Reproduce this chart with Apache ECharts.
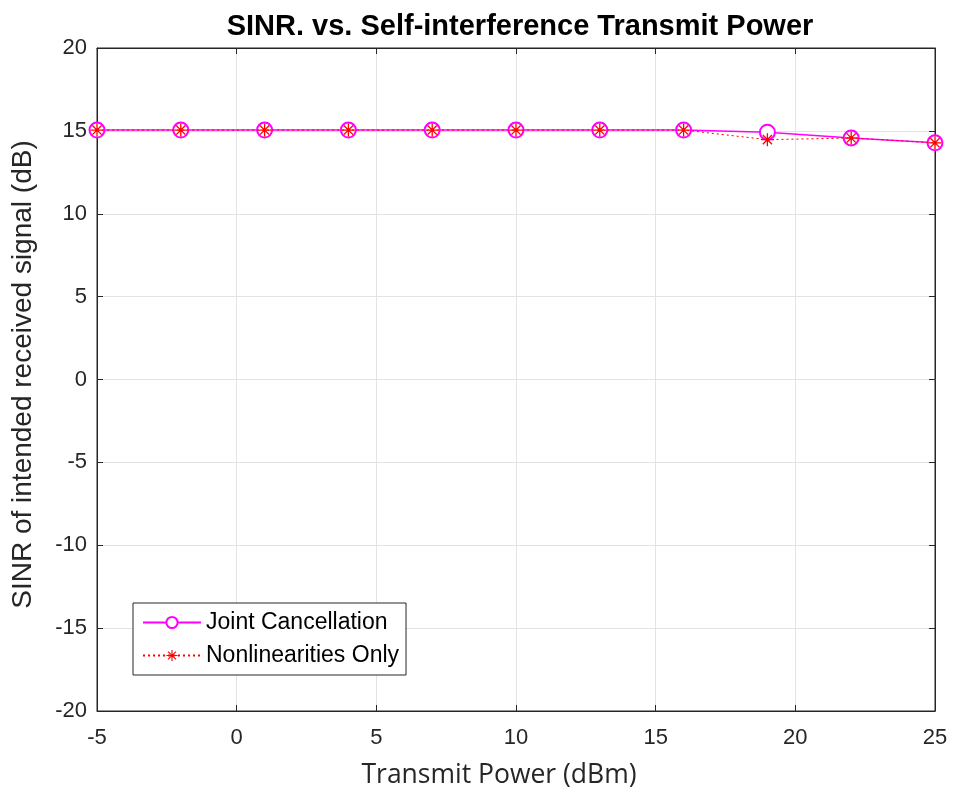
<!DOCTYPE html>
<html>
<head>
<meta charset="utf-8">
<script src="https://cdn.jsdelivr.net/npm/echarts@6/dist/echarts.min.js"></script>
<style>
  html, body { margin: 0; padding: 0; background: #fff; }
  #chart { width: 954px; height: 794px; }
</style>
</head>
<body>
<div id="chart"></div>
<script>
// Transmit power sweep (dBm)
const transmitPower = [-5, -2, 1, 4, 7, 10, 13, 16, 19, 22, 25];
// SINR (dB) for each scheme
const jointCancellation = [15.05, 15.05, 15.05, 15.05, 15.05, 15.05, 15.05, 15.05, 14.92, 14.57, 14.28];
const nonlinearitiesOnly = [15.05, 15.05, 15.05, 15.05, 15.05, 15.05, 15.05, 15.05, 14.47, 14.57, 14.28];
const seriesNames = ['Joint Cancellation', 'Nonlinearities Only'];

const FONT = '"Liberation Sans", Arial, Helvetica, sans-serif';
const LABEL_FONT = '"Open Sans", "Liberation Sans", sans-serif';
const AXIS_COLOR = '#262626';
const GRID_COLOR = '#e3e3e3';

// Asterisk marker built from four thin bars
const asterisk = 'path://M-1,-10L1,-10L1,10L-1,10Z M-10,-1L10,-1L10,1L-10,1Z ' +
  'M-7.78,-6.36L-6.36,-7.78L7.78,6.36L6.36,7.78Z M6.36,-7.78L7.78,-6.36L-6.36,7.78L-7.78,6.36Z';

const chart = echarts.init(document.getElementById('chart'), null, { renderer: 'canvas' });

const valueAxisCommon = {
  type: 'value',
  axisLine: { show: true, onZero: false, lineStyle: { color: AXIS_COLOR, width: 1 } },
  axisTick: { show: true, inside: true, length: 6, lineStyle: { color: AXIS_COLOR } },
  splitLine: { show: false }
};

chart.setOption({
  backgroundColor: '#ffffff',
  animation: false,
  textStyle: { fontFamily: FONT },
  title: {
    text: 'SINR. vs. Self-interference Transmit Power',
    left: 515, top: 7, textAlign: 'center',
    textStyle: { fontFamily: FONT, fontSize: 29, fontWeight: 'bold', color: '#000' }
  },
  grid: {
    left: 97, right: 19, top: 48, bottom: 81,
    show: true, borderColor: AXIS_COLOR, borderWidth: 1, backgroundColor: '#fff'
  },
  legend: {
    data: seriesNames,
    orient: 'vertical',
    left: 133, top: 603,
    itemWidth: 58, itemHeight: 14, itemGap: 10,
    padding: [8, 7, 8, 9],
    backgroundColor: '#fff',
    borderColor: AXIS_COLOR, borderWidth: 1, borderRadius: 0,
    textStyle: { fontFamily: FONT, fontSize: 23, color: '#000', padding: [0, 0, 0, 0] }
  },
  xAxis: [
    Object.assign({}, valueAxisCommon, {
      min: -5, max: 25, interval: 5,
      name: 'Transmit Power (dBm)', nameLocation: 'middle', nameGap: 51,
      nameTextStyle: { fontFamily: LABEL_FONT, fontSize: 26.5, color: AXIS_COLOR, padding: [0, 34, 0, 0] },
      axisLabel: { fontFamily: FONT, fontSize: 22, color: AXIS_COLOR, margin: 16 },
      splitLine: { show: true, lineStyle: { color: GRID_COLOR, width: 1 } }
    }),
    Object.assign({}, valueAxisCommon, {
      position: 'top', min: -5, max: 25, interval: 5, axisLabel: { show: false }
    })
  ],
  yAxis: [
    Object.assign({}, valueAxisCommon, {
      min: -20, max: 20, interval: 5,
      name: 'SINR of intended received signal (dB)', nameLocation: 'middle', nameGap: 60,
      nameTextStyle: { fontFamily: FONT, fontSize: 28, color: AXIS_COLOR, padding: [0, 0, 0, 10] },
      axisLabel: { fontFamily: FONT, fontSize: 22, color: AXIS_COLOR, margin: 10 },
      splitLine: { show: true, lineStyle: { color: GRID_COLOR, width: 1 } }
    }),
    Object.assign({}, valueAxisCommon, {
      position: 'right', min: -20, max: 20, interval: 5, axisLabel: { show: false }
    })
  ],
  series: [
    {
      name: seriesNames[0],
      type: 'line',
      data: transmitPower.map((x, i) => [x, jointCancellation[i]]),
      symbol: 'emptyCircle', symbolSize: 15,
      lineStyle: { color: '#ff00ff', width: 1.5, type: 'solid' },
      itemStyle: { color: '#ff00ff', borderColor: '#ff00ff', borderWidth: 1.5 },
      z: 3
    },
    {
      name: seriesNames[1],
      type: 'line',
      data: transmitPower.map((x, i) => [x, nonlinearitiesOnly[i]]),
      symbol: asterisk, symbolSize: 13,
      lineStyle: { color: '#ff0000', width: 1, type: [2, 3] },
      itemStyle: { color: '#ff0000', borderWidth: 0 },
      z: 4
    }
  ]
});
</script>
</body>
</html>
